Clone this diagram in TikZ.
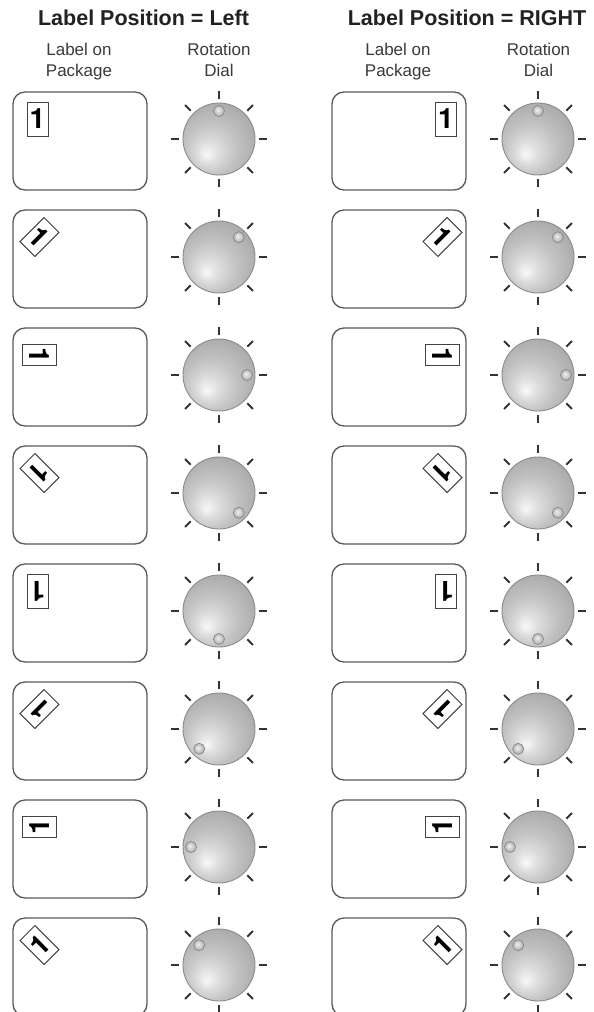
\documentclass[tikz,border=0pt]{standalone}
\usepackage{fontspec}
\setmainfont{Liberation Sans}
\newfontfamily\digitfont{TeX Gyre Heros}
\usetikzlibrary{calc}
\definecolor{titlecol}{HTML}{222222}
\definecolor{subcol}{HTML}{3A3A3A}
\definecolor{boxgray}{HTML}{5A5A5A}
\definecolor{lblgray}{HTML}{444444}
\definecolor{tickcol}{HTML}{333333}
\definecolor{dialedge}{HTML}{8C8C8C}
\definecolor{bumpedge}{HTML}{888888}
\definecolor{dA}{HTML}{F8F8F8}
\definecolor{dB}{HTML}{DCDCDC}
\definecolor{dC}{HTML}{C2C2C2}
\definecolor{dD}{HTML}{A8A8A8}
\definecolor{dE}{HTML}{9A9A9A}
\definecolor{bA}{HTML}{F0F0F0}
\definecolor{bB}{HTML}{D2D2D2}
\definecolor{bC}{HTML}{B0B0B0}
\pgfdeclareradialshading{dialshade}{\pgfpoint{-9bp}{-11bp}}{color(0bp)=(dA); color(8bp)=(dB); color(18bp)=(dC); color(32bp)=(dD); color(42bp)=(dE); color(50bp)=(dE)}
\pgfdeclareradialshading{bumpshade}{\pgfpoint{-5bp}{5bp}}{color(0bp)=(bA); color(12bp)=(bB); color(25bp)=(bC); color(50bp)=(bC)}
\tikzset{
  pkg/.style={draw=boxgray, line width=1.3pt, rounded corners=12pt},
  lbl/.style={draw=lblgray, fill=white, line width=1pt, minimum width=21pt, minimum height=34pt, inner sep=0pt, font=\digitfont\bfseries\fontsize{28}{28}\selectfont},
  dial/.style={circle, minimum size=72pt, inner sep=0pt, draw=dialedge, line width=0.9pt, shading=dialshade},
  bump/.style={circle, minimum size=11pt, inner sep=0pt, draw=bumpedge, line width=0.7pt, shading=bumpshade},
  dialtick/.style={draw=tickcol, line width=1.8pt},
  titletext/.style={anchor=base, text=titlecol, font=\bfseries\fontsize{21.5}{24}\selectfont},
  subtext/.style={anchor=base, text=subcol, font=\fontsize{17}{20}\selectfont}
}
\begin{document}
\begin{tikzpicture}[x=1pt,y=1pt]
\fill[white] (0,0) rectangle (594,-1012);
\useasboundingbox (0,0) rectangle (594,-1012);
% titles
\node[titletext] (tL) at (143.5,-25) {Label Position = Left};
\node[titletext] (tR) at (467,-25) {Label Position = RIGHT};
\node[subtext] (sL1) at (79,-55) {Label on};
\node[subtext] (sL2) at (79,-76) {Package};
\node[subtext] (sL3) at (219,-55) {Rotation};
\node[subtext] (sL4) at (219,-76) {Dial};
\node[subtext] (sR1) at (398,-55) {Label on};
\node[subtext] (sR2) at (398,-76) {Package};
\node[subtext] (sR3) at (538.5,-55) {Rotation};
\node[subtext] (sR4) at (538.5,-76) {Dial};
\foreach \k in {0,...,7}{
  \pgfmathsetmacro\yt{92+118*\k}
  \pgfmathsetmacro\yb{\yt+98}
  \pgfmathsetmacro\yc{\yt+47}
  \pgfmathsetmacro\yl{\yt+27}
  \pgfmathsetmacro\rot{-45*\k}
  \pgfmathsetmacro\ang{90-45*\k}
  \pgfmathsetmacro\m{mod(\k,4)}
  \pgfmathsetmacro\xl{ifthenelse(\m==0,37.5,39.5)}
  \pgfmathsetmacro\xr{ifthenelse(\m==0,446,442.5)}
  % packages
  \draw[pkg] (13,-\yt) rectangle (147,-\yb);
  \draw[pkg] (332,-\yt) rectangle (466,-\yb);
  \node[lbl, rotate=\rot] (lL\k) at (\xl,-\yl) {1};
  \node[lbl, rotate=\rot] (lR\k) at (\xr,-\yl) {1};
  % dials
  \foreach \side/\cx in {L/219,R/538}{
    \node[dial] (d\side\k) at (\cx,-\yc) {};
    \foreach \a in {0,45,...,315}{
      \draw[dialtick] (d\side\k.center) ++(\a:40pt) -- ++(\a:8pt);
    }
    \node[bump] (b\side\k) at ($(d\side\k.center)+(\ang:28pt)$) {};
  }
}
\end{tikzpicture}
\end{document}
